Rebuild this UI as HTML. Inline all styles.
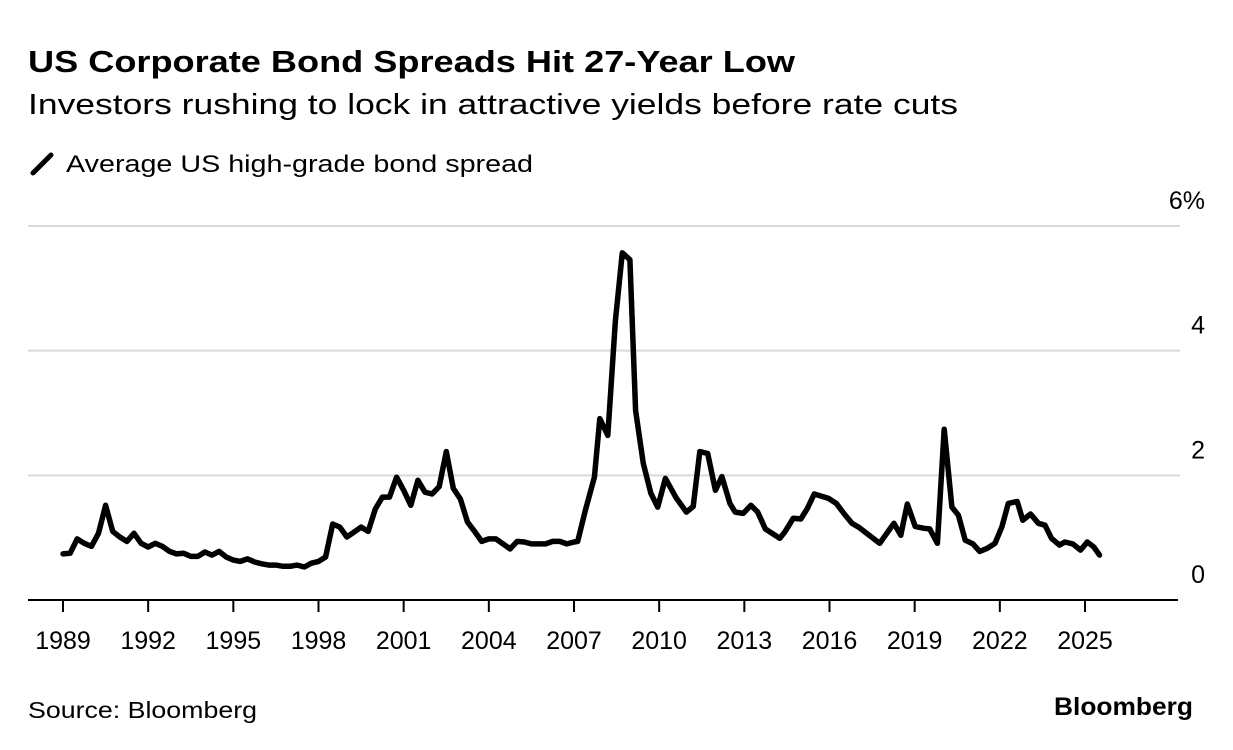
<!DOCTYPE html>
<html><head><meta charset="utf-8"><style>
html,body{margin:0;padding:0;background:#fff;}
svg{display:block;font-family:"Liberation Sans",sans-serif;}
</style></head><body>
<svg id="chart" width="1233" height="750" viewBox="0 0 1233 750">
<text x="28" y="72" font-size="31" font-weight="bold" fill="#000" textLength="767" lengthAdjust="spacingAndGlyphs">US Corporate Bond Spreads Hit 27-Year Low</text>
<text x="28" y="114" font-size="29" fill="#000" textLength="930" lengthAdjust="spacingAndGlyphs">Investors rushing to lock in attractive yields before rate cuts</text>
<g>
<line x1="33" y1="173" x2="51" y2="155" stroke="#000" stroke-width="5" stroke-linecap="round"/>
<text x="66" y="172" font-size="24" fill="#000" textLength="467" lengthAdjust="spacingAndGlyphs">Average US high-grade bond spread</text>
</g>
<g id="grid"></g><g id="axes"></g>
<path id="series" fill="none" stroke="#000" stroke-width="5.5" stroke-linejoin="round" stroke-linecap="round"/>
<text x="28" y="718" font-size="23" fill="#000" textLength="229" lengthAdjust="spacingAndGlyphs">Source: Bloomberg</text>
<text x="1193" y="715" font-size="25" font-weight="bold" fill="#000" text-anchor="end" textLength="139" lengthAdjust="spacingAndGlyphs">Bloomberg</text>
</svg>
<script>
const dates = [1989,1989.25,1989.5,1989.75,1990,1990.25,1990.5,1990.75,1991,1991.25,1991.5,1991.75,1992,1992.25,1992.5,1992.75,1993,1993.25,1993.5,1993.75,1994,1994.25,1994.5,1994.75,1995,1995.25,1995.5,1995.75,1996,1996.25,1996.5,1996.75,1997,1997.25,1997.5,1997.75,1998,1998.25,1998.5,1998.75,1999,1999.25,1999.5,1999.75,2000,2000.25,2000.5,2000.75,2001,2001.25,2001.5,2001.75,2002,2002.25,2002.5,2002.75,2003,2003.25,2003.5,2003.75,2004,2004.25,2004.5,2004.75,2005,2005.25,2005.5,2005.75,2006,2006.25,2006.5,2006.75,2007,
2007.13,2007.40,2007.72,2007.91,2008.19,2008.46,2008.70,2008.97,2009.17,2009.44,2009.71,2009.95,2010.22,2010.61,2010.96,2011.20,2011.43,2011.71,2011.98,2012.21,2012.49,2012.68,2012.96,2013.23,2013.47,2013.74,2014.25,2014.44,2014.72,2014.99,2015.22,2015.46,2015.97,2016.24,2016.52,2016.79,2017.02,2017.77,2018.27,2018.51,2018.74,2019.02,2019.33,2019.53,2019.80,2020.04,2020.31,2020.54,2020.78,2021.05,2021.29,2021.56,2021.83,2022.07,2022.30,2022.61,2022.81,2023.08,2023.36,2023.59,2023.82,2024.10,2024.29,2024.57,2024.84,2025.08,2025.31,2025.51];
const spreads = [0.74,0.75,0.98,0.91,0.86,1.07,1.52,1.10,1.01,0.94,1.07,0.91,0.85,0.91,0.86,0.78,0.74,0.75,0.70,0.70,0.77,0.72,0.78,0.69,0.64,0.62,0.66,0.61,0.58,0.56,0.56,0.54,0.54,0.56,0.53,0.59,0.62,0.69,1.22,1.17,1.01,1.09,1.17,1.10,1.46,1.65,1.65,1.97,1.76,1.52,1.92,1.73,1.70,1.82,2.38,1.79,1.62,1.25,1.10,0.94,0.98,0.98,0.90,0.82,0.94,0.93,0.90,0.90,0.90,0.94,0.94,0.90,0.93,
0.94,1.44,1.97,2.91,2.64,4.48,5.57,5.46,3.04,2.19,1.71,1.49,1.95,1.63,1.41,1.50,2.38,2.35,1.76,1.98,1.55,1.41,1.39,1.52,1.41,1.14,0.99,1.10,1.31,1.30,1.47,1.70,1.63,1.55,1.38,1.23,1.17,0.91,1.23,1.04,1.54,1.18,1.15,1.14,0.91,2.74,1.49,1.36,0.96,0.90,0.78,0.83,0.91,1.17,1.55,1.58,1.28,1.38,1.23,1.20,0.99,0.88,0.93,0.90,0.80,0.93,0.85,0.72];
const xTicks = [1989,1992,1995,1998,2001,2004,2007,2010,2013,2016,2019,2022,2025];
const yTicks = [0,2,4,6];
const yTickLabels = ["0","2","4","6%"];

const NS="http://www.w3.org/2000/svg";
function xS(yr){return 63+(yr-1989)*(1085-63)/36;}
function yS(v){return 600-v*(600-226)/6;}
const grid=document.getElementById('grid'), axes=document.getElementById('axes');
yTicks.forEach((t,i)=>{
  if(t>0){
    const l=document.createElementNS(NS,'line');
    l.setAttribute('x1',28);l.setAttribute('x2',1180);l.setAttribute('y1',yS(t));l.setAttribute('y2',yS(t));
    l.setAttribute('stroke','#d9d9d9');l.setAttribute('stroke-width','2');
    
    
    grid.appendChild(l);
  }
  const tx=document.createElementNS(NS,'text');
  tx.setAttribute('x',1205);tx.setAttribute('y',yS(t)-17);tx.setAttribute('text-anchor','end');
  tx.setAttribute('font-size','25');tx.textContent=yTickLabels[i];
  
  
  axes.appendChild(tx);
});
const ax=document.createElementNS(NS,'line');
ax.setAttribute('x1',28);ax.setAttribute('x2',1178);ax.setAttribute('y1',600);ax.setAttribute('y2',600);
ax.setAttribute('stroke','#000');ax.setAttribute('stroke-width','2');


axes.appendChild(ax);
xTicks.forEach(t=>{
  const k=document.createElementNS(NS,'line');
  k.setAttribute('x1',xS(t));k.setAttribute('x2',xS(t));k.setAttribute('y1',600);k.setAttribute('y2',612);
  k.setAttribute('stroke','#000');k.setAttribute('stroke-width','2');
  
  
  axes.appendChild(k);
  const tx=document.createElementNS(NS,'text');
  tx.setAttribute('x',xS(t));tx.setAttribute('y',649);tx.setAttribute('text-anchor','middle');
  tx.setAttribute('font-size','25');tx.textContent=t;
  
  
  axes.appendChild(tx);
});
let d='';
dates.forEach((yr,i)=>{d+=(i?'L':'M')+xS(yr).toFixed(1)+','+yS(spreads[i]).toFixed(1);});
document.getElementById('series').setAttribute('d',d);
</script>
</body></html>
